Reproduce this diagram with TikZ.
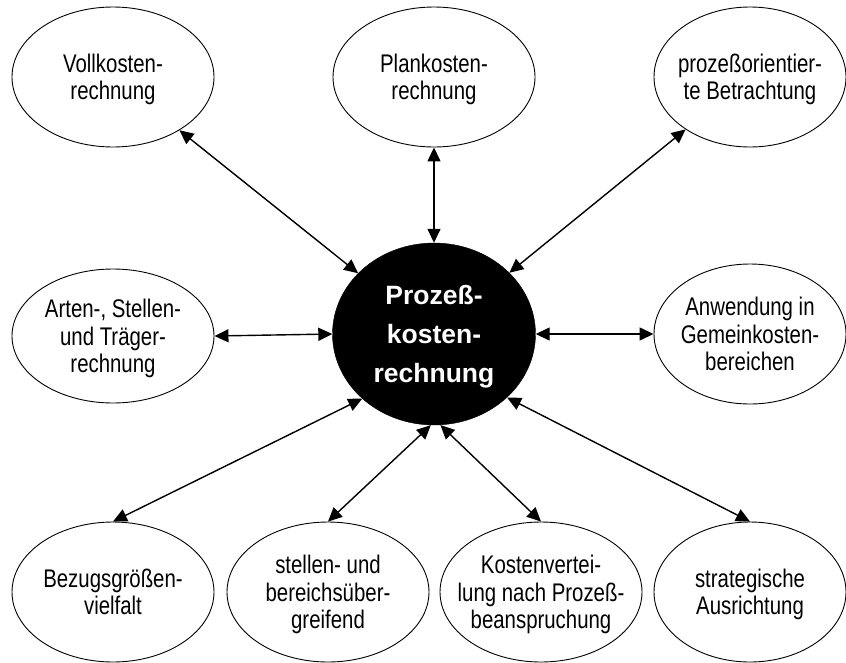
\documentclass[tikz,border=0pt]{standalone}
\usepackage{fontspec}
\setmainfont{Liberation Sans}
\newfontfamily\narrowfont[FakeStretch=0.8]{Liberation Sans}
\usetikzlibrary{shapes.geometric,arrows.meta}
\begin{document}
\begin{tikzpicture}[x=1pt,y=-1pt,
  ell/.style={ellipse,draw,line width=0.9pt,minimum width=202pt,minimum height=140pt,inner sep=-40pt,align=center,text depth=0pt,font=\narrowfont\fontsize{25.5}{27.5}\selectfont},
  ellr/.style={ell,minimum width=192pt},
  hub/.style={ellipse,fill=black,draw=black,minimum width=203pt,minimum height=182pt,inner sep=-40pt,align=center,text depth=0pt,text=white,font=\fontsize{26.5}{39}\selectfont\bfseries},
  arr/.style={line width=1.4pt,{Triangle[length=14pt,width=13pt]}-{Triangle[length=14pt,width=13pt]}}]
\useasboundingbox (0,0) rectangle (846,662);
\node[hub] (c) at (434,334) {Prozeß-\\kosten-\\rechnung};
\node[ell] (voll) at (113,77) {Vollkosten-\\rechnung};
\node[ell] (plan) at (434,77) {Plankosten-\\rechnung};
\node[ellr] (proz) at (750,77) {prozeßorientier-\\te Betrachtung};
\node[ell,minimum height=134pt] (arten) at (113,336) {Arten-, Stellen-\\und Träger-\\rechnung};
\node[ellr] (anw) at (750,334) {Anwendung in\\Gemeinkosten-\\bereichen};
\node[ell] (bez) at (113,592) {Bezugsgrößen-\\vielfalt};
\node[ell] (stel) at (328,592) {stellen- und\\bereichsüber-\\greifend};
\node[ell] (kost) at (541,592) {Kostenvertei-\\lung nach Prozeß-\\beanspruchung};
\node[ellr] (strat) at (750,592) {strategische\\Ausrichtung};
\draw[arr] (voll) -- (c);
\draw[arr] (plan) -- (c);
\draw[arr] (proz) -- (c);
\draw[arr] (arten.east) -- (c.west);
\draw[arr] (c.east) -- (anw.west);
\draw[arr] (c.-138) -- (bez.north);
\draw[arr] (c.-92.5) -- (stel.north);
\draw[arr] (c.-86.5) -- (kost.north);
\draw[arr] (c.-41) -- (strat.north);
\end{tikzpicture}
\end{document}
